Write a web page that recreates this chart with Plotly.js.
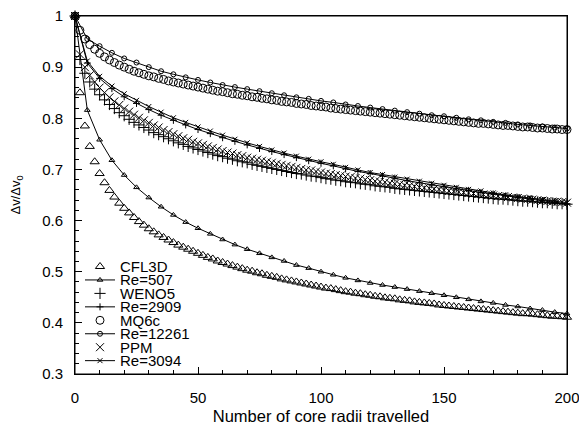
<!DOCTYPE html>
<html><head><meta charset="utf-8">
<script src="https://cdn.plot.ly/plotly-3.0.1.min.js"></script>
<style>html,body{margin:0;padding:0;background:#fff}#c{width:579px;height:430px}</style>
</head><body><div id="c"></div>
<script>
// sample positions (number of core radii travelled)
const DENSE_STEP = 2, LINE_STEP = 5;
const xDense = Array.from({length: 101}, (_, i) => i * DENSE_STEP);
const xLine = Array.from({length: 41}, (_, i) => i * LINE_STEP);

// dense-marker series (every 2 radii)
const cfl3d = [1.000,0.850,0.785,0.745,0.715,0.692,0.674,0.659,0.646,0.634,0.624,0.615,0.606,0.598,0.591,0.584,0.578,0.572,0.567,0.562,0.557,0.552,0.548,0.544,0.540,0.536,0.532,0.528,0.525,0.521,0.518,0.515,0.512,0.509,0.506,0.503,0.501,0.498,0.496,0.493,0.491,0.489,0.486,0.484,0.482,0.480,0.478,0.476,0.474,0.472,0.470,0.468,0.467,0.465,0.463,0.461,0.460,0.458,0.457,0.455,0.454,0.452,0.451,0.449,0.448,0.447,0.445,0.444,0.443,0.441,0.440,0.439,0.438,0.437,0.435,0.434,0.433,0.432,0.431,0.430,0.429,0.428,0.427,0.426,0.425,0.424,0.423,0.422,0.421,0.420,0.419,0.418,0.418,0.417,0.416,0.415,0.414,0.413,0.413,0.412,0.411];
const weno5 = [1.000,0.915,0.888,0.871,0.857,0.846,0.836,0.827,0.819,0.811,0.805,0.798,0.792,0.787,0.782,0.777,0.772,0.768,0.764,0.760,0.756,0.752,0.749,0.745,0.742,0.739,0.736,0.733,0.730,0.727,0.725,0.722,0.720,0.717,0.715,0.713,0.710,0.708,0.706,0.704,0.702,0.700,0.698,0.696,0.694,0.692,0.691,0.689,0.687,0.686,0.684,0.682,0.681,0.679,0.678,0.676,0.675,0.674,0.672,0.671,0.670,0.668,0.667,0.666,0.665,0.663,0.662,0.661,0.660,0.659,0.658,0.657,0.656,0.655,0.654,0.653,0.652,0.651,0.650,0.649,0.648,0.647,0.646,0.645,0.644,0.643,0.642,0.642,0.641,0.640,0.639,0.638,0.638,0.637,0.636,0.635,0.635,0.634,0.633,0.633,0.632];
const mq6c = [1.000,0.972,0.955,0.944,0.935,0.927,0.920,0.914,0.909,0.904,0.900,0.896,0.892,0.889,0.886,0.883,0.881,0.878,0.876,0.873,0.871,0.869,0.867,0.865,0.863,0.861,0.859,0.857,0.855,0.853,0.852,0.850,0.848,0.847,0.845,0.844,0.842,0.841,0.839,0.838,0.836,0.835,0.833,0.832,0.831,0.829,0.828,0.827,0.825,0.824,0.823,0.822,0.820,0.819,0.818,0.817,0.816,0.815,0.814,0.813,0.812,0.811,0.810,0.809,0.808,0.807,0.806,0.805,0.804,0.803,0.802,0.801,0.800,0.799,0.798,0.797,0.796,0.795,0.794,0.793,0.792,0.791,0.790,0.790,0.789,0.788,0.787,0.786,0.786,0.785,0.784,0.783,0.783,0.782,0.781,0.781,0.780,0.779,0.779,0.778,0.778];
const ppm = [1.000,0.925,0.900,0.884,0.871,0.860,0.850,0.841,0.833,0.826,0.819,0.813,0.807,0.801,0.796,0.791,0.786,0.782,0.777,0.773,0.769,0.765,0.761,0.758,0.754,0.751,0.748,0.745,0.742,0.739,0.736,0.733,0.731,0.728,0.726,0.723,0.721,0.719,0.717,0.715,0.713,0.711,0.709,0.707,0.705,0.703,0.701,0.699,0.698,0.696,0.694,0.692,0.691,0.689,0.688,0.686,0.685,0.683,0.682,0.680,0.679,0.677,0.676,0.675,0.673,0.672,0.671,0.669,0.668,0.667,0.665,0.664,0.663,0.662,0.661,0.659,0.658,0.657,0.656,0.655,0.654,0.653,0.652,0.651,0.650,0.649,0.648,0.647,0.646,0.645,0.644,0.643,0.642,0.641,0.640,0.639,0.638,0.637,0.637,0.636,0.635];

// Reynolds-number line series (every 5 radii)
const re507 = [1.000,0.816,0.758,0.718,0.689,0.665,0.645,0.627,0.611,0.597,0.585,0.574,0.563,0.553,0.544,0.536,0.528,0.521,0.513,0.507,0.500,0.494,0.488,0.483,0.478,0.474,0.470,0.466,0.462,0.458,0.454,0.450,0.446,0.442,0.439,0.435,0.432,0.428,0.425,0.421,0.418];
const re2909 = [1.000,0.908,0.878,0.858,0.842,0.829,0.817,0.806,0.796,0.787,0.778,0.770,0.762,0.755,0.748,0.741,0.735,0.729,0.723,0.717,0.712,0.707,0.701,0.696,0.692,0.687,0.683,0.678,0.674,0.670,0.666,0.662,0.659,0.655,0.652,0.648,0.645,0.642,0.639,0.636,0.633];
const re12261 = [1.000,0.955,0.941,0.928,0.917,0.909,0.900,0.892,0.886,0.880,0.875,0.870,0.865,0.861,0.857,0.853,0.849,0.845,0.841,0.838,0.834,0.831,0.827,0.824,0.821,0.818,0.815,0.812,0.809,0.806,0.804,0.801,0.798,0.796,0.793,0.791,0.788,0.786,0.784,0.782,0.780];
const re3094 = [1.000,0.912,0.882,0.863,0.848,0.835,0.823,0.812,0.801,0.792,0.783,0.775,0.767,0.759,0.752,0.745,0.738,0.732,0.726,0.720,0.715,0.710,0.704,0.699,0.694,0.690,0.685,0.681,0.677,0.673,0.669,0.665,0.661,0.658,0.654,0.650,0.647,0.644,0.641,0.638,0.635];

const legendNames = ['CFL3D','Re=507','WENO5','Re=2909','MQ6c','Re=12261','PPM','Re=3094'];
const xTitle = 'Number of core radii travelled';
const yTitle = 'Δv/Δv<sub>0</sub>';

const FONT = 'Liberation Sans, Arial, Helvetica, sans-serif';
const BIG = {'triangle-up-open':8,'cross-thin-open':8,'circle-open':8,'x-thin-open':8};
const SMALL = 5;
const series = [
  {name:legendNames[0], x:xDense, y:cfl3d, kind:'m', sym:'triangle-up-open'},
  {name:legendNames[1], x:xLine, y:re507, kind:'l', sym:'triangle-up-open'},
  {name:legendNames[2], x:xDense, y:weno5, kind:'m', sym:'cross-thin-open'},
  {name:legendNames[3], x:xLine, y:re2909, kind:'l', sym:'cross-thin-open'},
  {name:legendNames[4], x:xDense, y:mq6c, kind:'m', sym:'circle-open'},
  {name:legendNames[5], x:xLine, y:re12261, kind:'l', sym:'circle-open'},
  {name:legendNames[6], x:xDense, y:ppm, kind:'m', sym:'x-thin-open'},
  {name:legendNames[7], x:xLine, y:re3094, kind:'l', sym:'x-thin-open'}
];

const traces = [];
series.forEach(s => {
  traces.push({
    type:'scatter', x:s.x, y:s.y, name:s.name, showlegend:false,
    mode: s.kind === 'm' ? 'markers' : 'lines+markers',
    line:{color:'#000', width:1},
    marker:{symbol:s.sym, size: s.kind==='m' ? BIG[s.sym] : SMALL, color:'#000', line:{color:'#000', width:1}},
    cliponaxis:false
  });
});

// hand-made legend (compact rows), placed by pixel offsets inside the plot area
const L = 75, W = 492, T = 16, H = 358, XR = [0,200], YR = [0.3,1];
const px2x = p => XR[0] + (p - L) / W * (XR[1]-XR[0]);
const px2y = p => YR[1] - (p - T) / H * (YR[1]-YR[0]);
const symX = px2x(100), lineX0 = px2x(85), lineX1 = px2x(115), textX = (119 - L) / W;
const annotations = [];
series.forEach((s, i) => {
  const py = 266.5 + i * 13.45;
  const yy = px2y(py);
  if (s.kind === 'l') {
    traces.push({type:'scatter', x:[lineX0, lineX1], y:[yy, yy], mode:'lines',
      line:{color:'#000', width:1}, showlegend:false, hoverinfo:'skip'});
  }
  traces.push({type:'scatter', x:[symX], y:[yy], mode:'markers', showlegend:false, hoverinfo:'skip',
    marker:{symbol:s.sym, size: s.kind==='m' ? BIG[s.sym] : SMALL, color:'#000', line:{color:'#000', width:1}}});
  annotations.push({xref:'paper', yref:'paper', x:textX, y:1 - (py - T) / H, xanchor:'left', yanchor:'middle', showarrow:false,
    borderpad:0, text:s.name, font:{family:FONT, size:15, color:'#000'}});
});

const layout = {
  width:579, height:430,
  margin:{l:75, r:12, t:16, b:56},
  paper_bgcolor:'#fff', plot_bgcolor:'#fff',
  font:{family:FONT, size:14, color:'#000'},
  showlegend:false,
  xaxis:{range:XR, dtick:50, tick0:0, ticks:'inside', ticklen:7, tickwidth:1, tickcolor:'#000',
    minor:{dtick:10, ticks:'inside', ticklen:4, tickcolor:'#000'},
    showline:true, linecolor:'#000', linewidth:1, mirror:true, showgrid:false, zeroline:false,
    ticklabeloverflow:'allow', ticklabelstandoff:10,
    tickfont:{size:15}, title:{text:xTitle, font:{size:16.5}, standoff:5}},
  yaxis:{range:YR, dtick:0.1, tick0:0.3, ticks:'inside', ticklen:7, tickwidth:1, tickcolor:'#000',
    minor:{dtick:0.02, ticks:'inside', ticklen:4, tickcolor:'#000'},
    showline:true, linecolor:'#000', linewidth:1, mirror:true, showgrid:false, zeroline:false,
    ticklabelstandoff:8,
    tickfont:{size:15}, title:{text:yTitle, font:{size:13}, standoff:18}},
  shapes:[{type:'rect', xref:'paper', yref:'paper', x0:0, x1:1, y0:0, y1:1, line:{color:'#000', width:1}, layer:'above'}],
  annotations:annotations
};

Plotly.newPlot('c', traces, layout, {staticPlot:true, displayModeBar:false});
</script></body></html>
